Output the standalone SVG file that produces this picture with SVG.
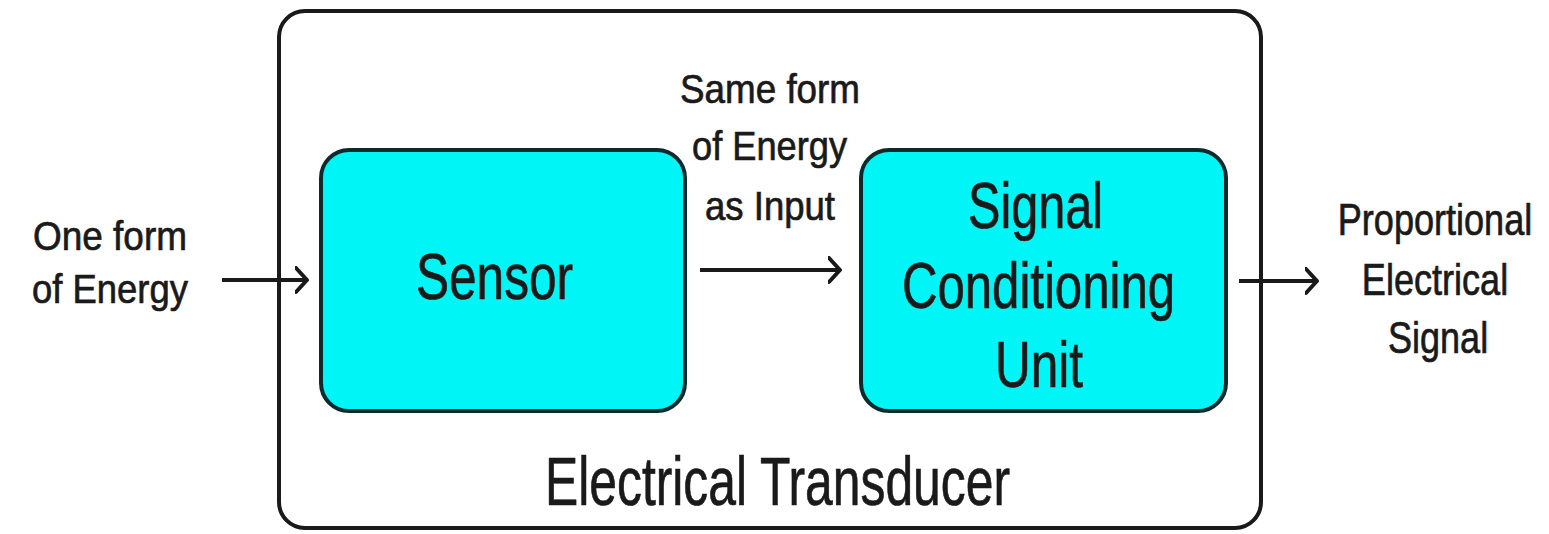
<svg xmlns="http://www.w3.org/2000/svg" width="1549" height="534" viewBox="0 0 1549 534">
<style>
text{font-family:"Liberation Sans",Arial,sans-serif;fill:#1a1a1a;stroke:#1a1a1a;stroke-width:0.7px;text-anchor:middle}
.lbl{font-size:41px}
.blk{fill:#00f6f6;stroke:#0d2a2c;stroke-width:4}
.conn{stroke:#1a1a1a;stroke-width:4;fill:none}
</style>
<defs>
<marker id="ah" markerUnits="userSpaceOnUse" markerWidth="16" markerHeight="32" refX="12" refY="14" orient="auto">
<path d="M1,2 L12,14 L1,26" fill="none" stroke="#1a1a1a" stroke-width="4" stroke-linecap="round" stroke-linejoin="round"/>
</marker>
</defs>
<g id="transducer">
<rect x="279" y="11" width="982" height="517" rx="26" ry="26" fill="#fff" stroke="#1a1a1a" stroke-width="4"/>
<text x="777.5" y="505" font-size="69" textLength="465" lengthAdjust="spacingAndGlyphs">Electrical Transducer</text>
</g>
<g id="input-label">
<text class="lbl" x="110" y="250" textLength="154" lengthAdjust="spacingAndGlyphs">One form</text>
<text class="lbl" x="110" y="303" textLength="156" lengthAdjust="spacingAndGlyphs">of Energy</text>
</g>
<g id="sensor">
<rect class="blk" x="321" y="150" width="364" height="261" rx="28" ry="28"/>
<text x="494.5" y="299" font-size="65" textLength="157" lengthAdjust="spacingAndGlyphs">Sensor</text>
</g>
<g id="mid-label">
<text class="lbl" x="770" y="103" font-size="40" textLength="180" lengthAdjust="spacingAndGlyphs">Same form</text>
<text class="lbl" x="769.5" y="160" font-size="40" textLength="155" lengthAdjust="spacingAndGlyphs">of Energy</text>
<text class="lbl" x="770" y="220" font-size="40" textLength="130" lengthAdjust="spacingAndGlyphs">as Input</text>
</g>
<g id="signal-conditioning">
<rect class="blk" x="861" y="150" width="365" height="261" rx="28" ry="28"/>
<text x="1035.5" y="228" font-size="64" textLength="135" lengthAdjust="spacingAndGlyphs">Signal</text>
<text x="1038.5" y="308" font-size="64" textLength="273" lengthAdjust="spacingAndGlyphs">Conditioning</text>
<text x="1039" y="387" font-size="64" textLength="88" lengthAdjust="spacingAndGlyphs">Unit</text>
</g>
<g id="output-label" transform="translate(1435,0) scale(0.82,1)">
<text x="0" y="235" font-size="44">Proportional</text>
<text x="0" y="295" font-size="44">Electrical</text>
<text x="3.7" y="353" font-size="44">Signal</text>
</g>
<g id="connectors">
<line class="conn" x1="222" y1="280" x2="307" y2="280" marker-end="url(#ah)"/>
<line class="conn" x1="700" y1="270" x2="840" y2="270" marker-end="url(#ah)"/>
<line class="conn" x1="1239" y1="281" x2="1317" y2="281" marker-end="url(#ah)"/>
</g>
</svg>
